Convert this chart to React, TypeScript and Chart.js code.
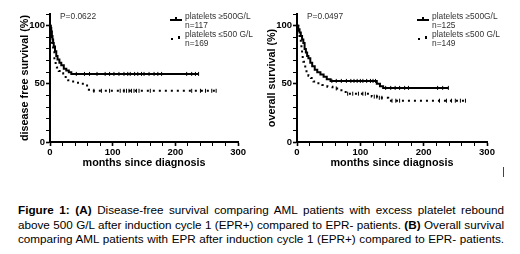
import React, { useEffect, useRef } from "react";
import { Chart, registerables } from "chart.js";
Chart.register(...registerables);

const FONT = "'Liberation Sans', Arial, Helvetica, sans-serif";

// ---- Panel A: disease free survival ----
const dfsHighTimes = [0, 1, 2, 3, 4, 5, 6, 8, 10, 12, 15, 18, 22, 26, 30, 34, 237];
const dfsHighSurv = [100, 98, 95, 91, 88, 85, 82, 78, 74, 71, 68, 66, 63, 61.5, 60, 58.5, 58.5];
const dfsHighCensor = [42, 55, 63, 75, 88, 95, 102, 110, 118, 124, 128, 135, 140, 146, 150, 158, 166, 172, 178, 218, 226, 232, 237];

const dfsLowTimes = [0, 1, 2, 3, 5, 7, 9, 11, 14, 17, 21, 25, 29, 34, 40, 48, 57, 62, 68, 265];
const dfsLowSurv = [100, 96, 90, 84, 78, 71, 67, 64, 61, 59, 57, 55, 53, 52, 51, 50, 48.5, 45, 44, 44];
const dfsLowCensor = [70, 82, 95, 112, 118, 122, 126, 130, 134, 138, 142, 160, 226, 240, 248, 258, 265];

// ---- Panel B: overall survival ----
const osHighTimes = [0, 2, 4, 6, 8, 10, 12, 14, 16, 18, 21, 24, 28, 32, 37, 42, 47, 53, 126, 131, 136, 239];
const osHighSurv = [100, 97, 94, 91, 88, 85, 80, 77, 74, 72, 68, 65, 62, 60, 58, 56, 54, 52.5, 50, 48, 46.5, 46.5];
const osHighCensor = [55, 62, 70, 78, 85, 90, 95, 100, 104, 110, 116, 120, 124, 140, 148, 155, 162, 170, 176, 222, 230, 239];

const osLowTimes = [0, 2, 3, 4, 5, 6, 7, 8, 9, 10, 11, 13, 15, 18, 22, 26, 32, 40, 48, 56, 65, 74, 80, 118, 128, 144, 266];
const osLowSurv = [100, 97, 94, 91, 88, 84, 80, 76, 72, 69, 66, 62, 59, 57, 55, 52, 50.5, 49, 47.5, 46, 44.5, 43, 41.5, 39, 38, 35.5, 35.5];
const osLowCensor = [62, 80, 88, 97, 104, 108, 122, 126, 130, 134, 150, 156, 162, 225, 236, 244, 250, 258, 266];

const xTickLabels = [0, 100, 200, 300];
const yTickLabels = [0, 50, 100];

const captionLines = [
  [
    { b: true, t: "Figure 1: (A)" },
    { b: false, t: " Disease-free survival comparing AML patients with excess platelet rebound" },
  ],
  [
    { b: false, t: "above 500 G/L after induction cycle 1 (EPR+) compared to EPR- patients. " },
    { b: true, t: "(B)" },
    { b: false, t: " Overall survival" },
  ],
  [{ b: false, t: "comparing AML patients with EPR after induction cycle 1 (EPR+) compared to EPR- patients." }],
];

function stepValue(times: number[], surv: number[], t: number) {
  let v = surv[0];
  for (let i = 0; i < times.length; i++) if (times[i] <= t) v = surv[i];
  return v;
}

type Curve = { times: number[]; surv: number[]; censor: number[]; dotted: boolean };

function KMChart(props: {
  width: number;
  height: number;
  padLeft: number;
  axisLeft: number;
  axisRight: number;
  yTitle: string;
  curves: Curve[];
}) {
  const ref = useRef<HTMLCanvasElement | null>(null);
  useEffect(() => {
    if (!ref.current) return;
    const { width, height, padLeft, axisLeft, axisRight, yTitle, curves } = props;
    const datasets: any[] = [];
    curves.forEach((c) => {
      datasets.push({
        type: "line",
        data: c.times.map((t, i) => ({ x: t, y: c.surv[i] })),
        stepped: true,
        borderColor: "#000",
        borderWidth: 2,
        borderDash: c.dotted ? [2, 4] : [],
        pointRadius: 0,
        fill: false,
      });
      datasets.push({
        type: "scatter",
        data: c.censor.map((t) => ({ x: t, y: stepValue(c.times, c.surv, t) })),
        pointStyle: "line",
        rotation: 90,
        pointRadius: 2,
        borderColor: "#000",
        backgroundColor: "#000",
        borderWidth: 1,
        showLine: false,
      });
    });
    const tickFont = { family: FONT, size: 9.5, weight: "bold" as const };
    const titleFont = { family: FONT, size: 10.8, weight: "bold" as const };
    const chart = new Chart(ref.current, {
      type: "scatter",
      data: { datasets },
      options: {
        animation: false,
        responsive: false,
        events: [],
        layout: { padding: { left: padLeft, top: 14, right: width - axisRight, bottom: height - 170 } },
        plugins: { legend: { display: false }, tooltip: { enabled: false } },
        scales: {
          x: {
            type: "linear",
            min: 0,
            max: 300,
            ticks: {
              stepSize: 20,
              autoSkip: false,
              maxRotation: 0,
              padding: 1,
              color: "#000",
              font: tickFont,
              callback: (v: any) => (xTickLabels.includes(Number(v)) ? String(v) : ""),
            },
            grid: {
              drawOnChartArea: false,
              tickLength: 4,
              tickColor: "#000",
              tickWidth: (ctx: any) => (ctx.tick && xTickLabels.includes(ctx.tick.value) ? 1.6 : 1),
            },
            border: { color: "#000", width: 2 },
            title: { display: true, text: "months since diagnosis", color: "#000", font: titleFont, padding: 0 },
            afterFit: (s: any) => {
              s.height = 28;
            },
          },
          y: {
            min: 0,
            max: 110,
            ticks: {
              stepSize: 10,
              autoSkip: false,
              padding: 1,
              color: "#000",
              font: tickFont,
              callback: (v: any) => (yTickLabels.includes(Number(v)) ? String(v) : ""),
            },
            grid: {
              drawOnChartArea: false,
              tickLength: 4,
              tickColor: "#000",
              tickWidth: (ctx: any) => (ctx.tick && yTickLabels.includes(ctx.tick.value) ? 1.6 : 1),
            },
            border: { color: "#000", width: 2 },
            title: { display: true, text: yTitle, color: "#000", font: titleFont, padding: 0 },
            afterFit: (s: any) => {
              s.width = axisLeft - padLeft;
            },
          },
        },
      } as any,
    });
    return () => chart.destroy();
  }, []);
  return (
    <canvas
      ref={ref}
      width={props.width}
      height={props.height}
      style={{ width: props.width, height: props.height, display: "block" }}
    />
  );
}

function Legend(props: { left: number; symLeft: number; pText: string; pLeft: number; n1: string; n2: string }) {
  const txt: React.CSSProperties = {
    position: "absolute",
    fontFamily: FONT,
    fontSize: 8.4,
    lineHeight: "8.6px",
    color: "#333",
    whiteSpace: "nowrap",
  };
  return (
    <>
      <div style={{ ...txt, left: props.pLeft, top: 12 }}>{props.pText}</div>
      <div style={{ ...txt, left: props.left, top: 12 }}>
        platelets ≥500G/L
        <br />
        {props.n1}
      </div>
      <div style={{ ...txt, left: props.left, top: 30 }}>
        platelets ≤500 G/L
        <br />
        {props.n2}
      </div>
      <div style={{ position: "absolute", left: props.symLeft, top: 19, width: 12, height: 2, background: "#000" }} />
      <div style={{ position: "absolute", left: props.symLeft + 5, top: 17, width: 1.5, height: 3, background: "#000" }} />
      <div style={{ position: "absolute", left: props.symLeft + 1, top: 37.5, width: 2, height: 2, background: "#000" }} />
      <div style={{ position: "absolute", left: props.symLeft + 8, top: 36, width: 2, height: 2.5, background: "#000" }} />
    </>
  );
}

export default function App() {
  return (
    <div
      style={{
        position: "fixed",
        left: 0,
        top: 0,
        width: 520,
        height: 254,
        background: "#fff",
        overflow: "hidden",
      }}
    >
      <div style={{ position: "absolute", left: 0, top: 0 }}>
        <KMChart
          width={247}
          height={180}
          padLeft={19}
          axisLeft={50}
          axisRight={242}
          yTitle="disease free survival (%)"
          curves={[
            { times: dfsHighTimes, surv: dfsHighSurv, censor: dfsHighCensor, dotted: false },
            { times: dfsLowTimes, surv: dfsLowSurv, censor: dfsLowCensor, dotted: true },
          ]}
        />
      </div>
      <div style={{ position: "absolute", left: 247, top: 0 }}>
        <KMChart
          width={273}
          height={180}
          padLeft={19}
          axisLeft={50}
          axisRight={240}
          yTitle="overall survival (%)"
          curves={[
            { times: osHighTimes, surv: osHighSurv, censor: osHighCensor, dotted: false },
            { times: osLowTimes, surv: osLowSurv, censor: osLowCensor, dotted: true },
          ]}
        />
      </div>
      <Legend left={185} symLeft={170} pText="P=0.0622" pLeft={60} n1="n=117" n2="n=169" />
      <Legend left={432} symLeft={417} pText="P=0.0497" pLeft={307} n1="n=125" n2="n=149" />
      <div style={{ position: "absolute", left: 503, top: 167, width: 1, height: 10, background: "#444" }} />
      <div
        style={{
          position: "absolute",
          left: 18,
          top: 203,
          width: 486,
          fontFamily: FONT,
          fontSize: 11.7,
          lineHeight: "14.5px",
          color: "#000",
        }}
      >
        {captionLines.map((line, i) => (
          <div key={i} style={{ textAlign: "justify", textAlignLast: "justify", whiteSpace: "nowrap" as any }}>
            {line.map((seg, j) => (
              <span key={j} style={{ fontWeight: seg.b ? "bold" : "normal" }}>
                {seg.t}
              </span>
            ))}
          </div>
        ))}
      </div>
    </div>
  );
}
